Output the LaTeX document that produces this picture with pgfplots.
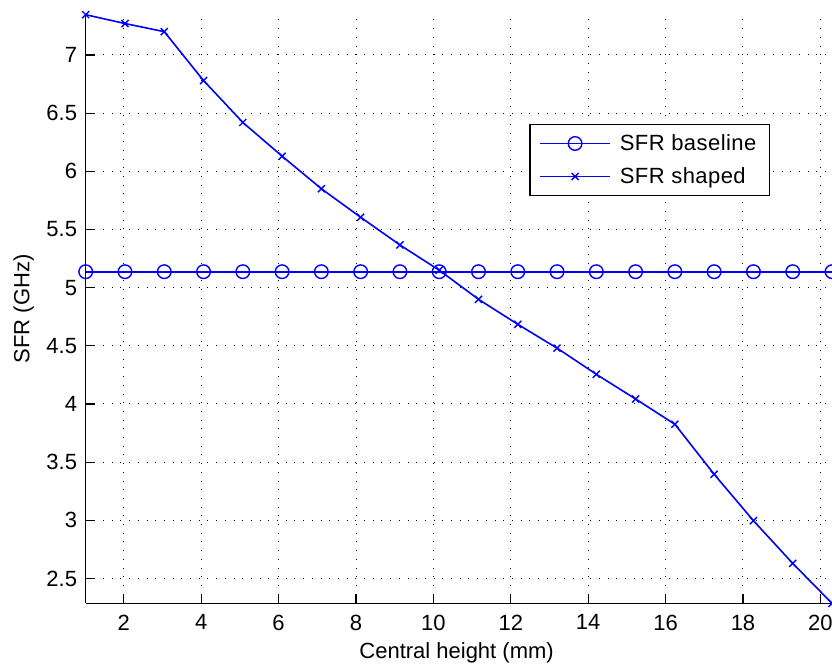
\documentclass[border=0pt]{standalone}
\usepackage{fontspec}
\setmainfont{Liberation Sans}
\newfontfamily\legfont{Liberation Sans}[LetterSpace=2]
\usepackage{pgfplots}
\pgfplotsset{compat=1.18}
\definecolor{mblue}{RGB}{0,0,255}
\begin{document}
\begin{tikzpicture}
\begin{axis}[
  name=ax,
  at={(0pt,0pt)}, anchor=south west,
  scale only axis,
  width=373.15pt, height=294.3pt,
  xmin=1.015, xmax=20.3,
  ymin=2.287, ymax=7.346,
  axis x line*=bottom, axis y line*=left,
  axis line style={black, line width=0.6pt, -},
  xtick={2,4,...,20},
  ytick={2.5,3,3.5,4,4.5,5,5.5,6,6.5,7},
  yticklabels={2.5,3,3.5,4,4.5,5,5.5,6,6.5,7},
  tick align=inside,
  major tick length=4.5pt,
  tick style={black, line width=0.6pt},
  grid=major,
  major grid style={black, line width=0.5pt, dash pattern=on 0.5pt off 3.85pt},
  /pgf/number format/assume math mode=true,
  ticklabel style={font=\fontsize{11}{13}\selectfont},
  xticklabel style={yshift=-2.2pt},
  yticklabel style={xshift=-0.8pt},
  label style={font=\fontsize{11}{13}\selectfont},
  xlabel={Central height (mm)},
  xlabel style={at={(axis description cs:0.497,0)}, anchor=base, yshift=-27.5pt},
  ylabel={SFR (GHz)},
  ylabel style={at={(axis description cs:-0.0831,0.5)}, anchor=center},
  clip=false,
  legend cell align=left,
  legend style={
    at={(rel axis cs:0.5944,0.815)}, anchor=north west,
    draw=black, line width=0.6pt,
    font=\legfont\fontsize{11}{13}\selectfont,
    inner xsep=4.7pt, inner ysep=1.4pt,
    row sep=0pt, column sep=2.5pt,
    nodes={inner sep=2pt, text height=10pt, text depth=2.5pt},
  },
  legend image code/.code={
    \draw[mblue, line width=0.8pt, mark repeat=2, mark phase=2] plot coordinates {(0pt,0pt) (17.5pt,0pt) (35pt,0pt)};
  },
]
\addplot[mblue, line width=0.8pt, mark=o, mark size=3.4pt, mark options={line width=0.7pt}] coordinates {
(1.015,5.137) (2.03,5.137) (3.045,5.137) (4.06,5.137) (5.075,5.137)
(6.09,5.137) (7.105,5.137) (8.12,5.137) (9.135,5.137) (10.15,5.137)
(11.165,5.137) (12.18,5.137) (13.195,5.137) (14.21,5.137) (15.225,5.137)
(16.24,5.137) (17.255,5.137) (18.27,5.137) (19.285,5.137) (20.3,5.137)
};
\addlegendentry{SFR baseline}
\addplot[mblue, line width=0.8pt, mark=x, mark size=2.5pt, mark options={line width=0.7pt}] coordinates {
(1.015,7.346) (2.03,7.27) (3.045,7.20) (4.06,6.78) (5.075,6.42)
(6.09,6.13) (7.105,5.85) (8.12,5.605) (9.135,5.367) (10.15,5.15)
(11.165,4.90) (12.18,4.685) (13.195,4.48) (14.21,4.255) (15.225,4.043)
(16.24,3.826) (17.255,3.396) (18.27,2.997) (19.285,2.63) (20.3,2.287)
};
\addlegendentry{SFR shaped}
\end{axis}
\pgfresetboundingbox
\path[use as bounding box] (-42.85pt,-31.35pt) rectangle (373.15pt,301.65pt);
\end{tikzpicture}
\end{document}
